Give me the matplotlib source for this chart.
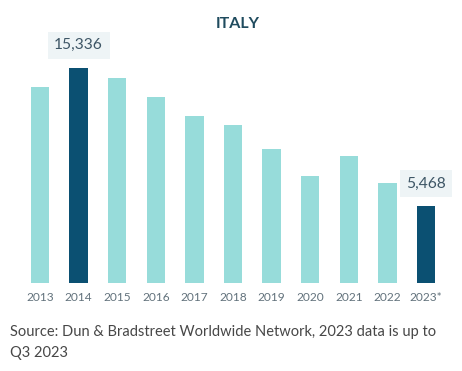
import matplotlib
matplotlib.use("Agg")
import matplotlib.pyplot as plt

years = ["2013", "2014", "2015", "2016", "2017", "2018", "2019", "2020", "2021", "2022", "2023*"]
values = [14020, 15336, 14640, 13310, 11930, 11260, 9550, 7640, 9070, 7120, 5468]
highlight = ["2014", "2023*"]
labels = {"2014": "15,336", "2023*": "5,468"}

light = "#97DCDA"
dark = "#0B5072"

W, H = 462, 371
fig = plt.figure(figsize=(W / 100, H / 100), dpi=100)
fig.patch.set_facecolor("white")

top_px, bottom_px = 68.3, 283
left_px, right_px = 20.7, 445.3
ax = fig.add_axes([left_px / W, (H - bottom_px) / H, (right_px - left_px) / W, (bottom_px - top_px) / H])

colors = [dark if y in highlight else light for y in years]
x = list(range(len(years)))
ax.bar(x, values, width=0.48, color=colors)
ax.set_xlim(-0.5, len(years) - 0.5)
ax.set_ylim(0, max(values))
for s in ax.spines.values():
    s.set_visible(False)
ax.set_yticks([])
ax.set_xticks(x)
ax.set_xticklabels(years, fontfamily="Lato", fontsize=8.6, color="#62727C")
ax.tick_params(axis="x", length=0, pad=6.5)

for i, y in enumerate(years):
    if y in labels:
        ax.annotate(labels[y], (i, values[i]), xytext=(0, 16.5), textcoords="offset points",
                    ha="center", va="center", fontfamily="Lato", fontsize=11.2, color="#3E5666",
                    annotation_clip=False,
                    bbox=dict(boxstyle="square,pad=0.42", fc="#EEF4F6", ec="none"))

fig.text(238 / W, 1 - 24 / H, "ITALY", ha="center", va="center", fontfamily="Lato",
         fontweight="bold", fontsize=11.5, color="#1F4B5E")

fig.text(10 / W, 1 - 331.7 / H, "Source: Dun & Bradstreet Worldwide Network, 2023 data is up to",
         ha="left", va="center", fontfamily="Lato", fontsize=10.5, color="#474747")
fig.text(10 / W, 1 - 352.7 / H, "Q3 2023",
         ha="left", va="center", fontfamily="Lato", fontsize=10.5, color="#474747")

fig.savefig("out.png", dpi=100, facecolor="white")
